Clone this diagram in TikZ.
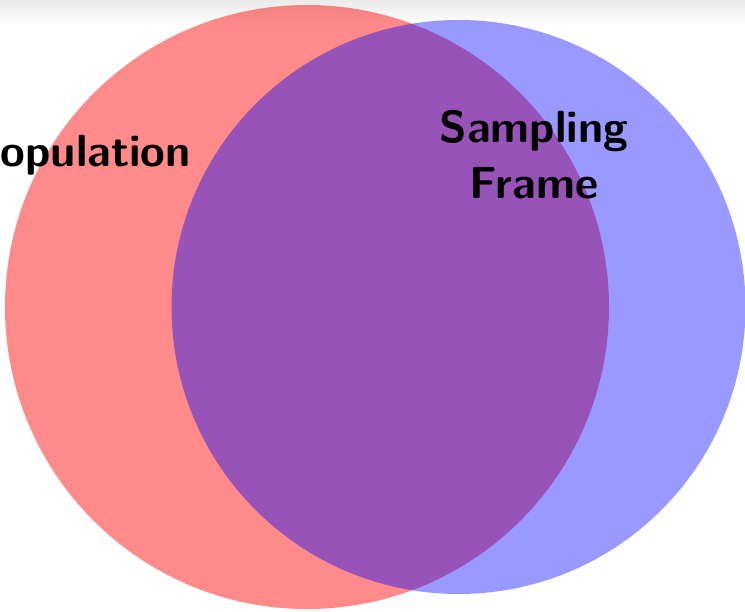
\documentclass[tikz,border=0pt]{standalone}
\begin{document}
\begin{tikzpicture}[x=1pt,y=-1pt,
  setlabel/.style={font=\fontsize{45}{56}\selectfont\sffamily\bfseries, text=black, inner sep=0pt, align=center},
  popset/.style={fill=red, fill opacity=0.46, draw=none},
  frameset/.style={fill=blue, fill opacity=0.4, draw=none}]
\useasboundingbox (0,0) rectangle (745,612);
\clip (0,0) rectangle (745,612);
\shade[top color=black!8, bottom color=white] (0,0) rectangle (745,26);
\fill[popset] (307,307) circle[radius=302];
\fill[frameset] (458.5,307) circle[radius=287];
\node[setlabel, anchor=base east] (pop) at (191,167) {Population};
\node[setlabel, anchor=base] (frame) at (534,199) {Sampling\\Frame};
\end{tikzpicture}
\end{document}
